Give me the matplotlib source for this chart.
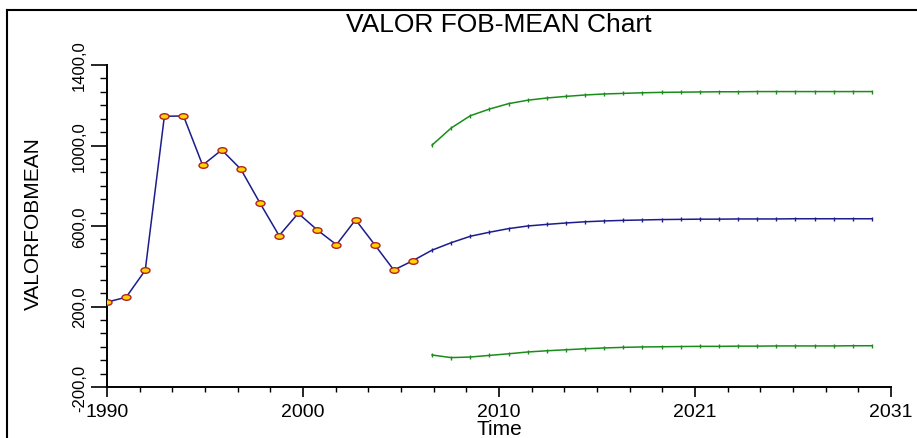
import numpy as np
import matplotlib
matplotlib.use("Agg")
import matplotlib.pyplot as plt
from matplotlib.lines import Line2D
from matplotlib.path import Path
from matplotlib.ticker import AutoMinorLocator, FixedLocator

plt.rcParams['font.family'] = ['Liberation Sans', 'DejaVu Sans']

# observed series
obs_years = list(range(1990, 2007))
obs_values = [222, 246, 380, 1145, 1147, 902, 978, 882, 714, 552, 663,
              580, 507, 631, 507, 381, 428]

# forecast mean and confidence limits
fc_years = list(range(2007, 2031))
fc_mean = [480, 517, 549, 569, 587, 600, 608, 615, 621, 625, 628, 630,
           632, 633, 634, 634, 635, 635, 635, 636, 636, 636, 636, 636]
fc_upper = [1002, 1087, 1148, 1181, 1208, 1225, 1236, 1244, 1251, 1256, 1259, 1262,
            1264, 1265, 1266, 1267, 1267, 1268, 1268, 1268, 1268, 1268, 1268, 1268]
fc_lower = [-41, -54, -51, -43, -35, -26, -20, -15, -10, -6, -3, -1,
            0, 1, 2, 2, 3, 3, 4, 4, 4, 4, 5, 5]

x_ticks = [1990, 2000.25, 2010.5, 2020.75, 2031]
x_tick_labels = ["1990", "2000", "2010", "2021", "2031"]
y_ticks = [-200, 200, 600, 1000, 1400]
y_tick_labels = ["-200,0", "200,0", "600,0", "1000,0", "1400,0"]

W, H = 917, 439
fig = plt.figure(figsize=(W / 100, H / 100), dpi=100)
ax = fig.add_axes([107 / W, 1 - 388 / H, 784 / W, 322 / H])

blue = '#1c1c8c'
green = '#1a8c1a'

# blue line: observed + forecast mean joined
ax.plot(obs_years + fc_years, obs_values + fc_mean, color=blue, lw=1.1, zorder=3)
ax.plot(fc_years, fc_mean, ls='none', marker='|', ms=2.5, color=blue, zorder=3)
ax.plot(fc_years, fc_upper, color=green, lw=1.1, marker='|', ms=2.5)
ax.plot(fc_years, fc_lower, color=green, lw=1.1, marker='|', ms=2.5)

circ = Path.unit_circle()
ellipse = Path(circ.vertices * np.array([1.0, 0.62]), circ.codes)
ax.plot(obs_years, obs_values, ls='none', marker=ellipse, ms=6.5,
        mfc='#ffd400', mec='#b22222', mew=1.0, zorder=4)

ax.set_xlim(1990, 2031)
ax.set_ylim(-200, 1400)

for s in ['top', 'right']:
    ax.spines[s].set_visible(False)
for s in ['left', 'bottom']:
    ax.spines[s].set_linewidth(1.4)

ax.xaxis.set_major_locator(FixedLocator(x_ticks))
ax.set_xticklabels(x_tick_labels, fontsize=14)
ax.yaxis.set_major_locator(FixedLocator(y_ticks))
ax.set_yticklabels(y_tick_labels, fontsize=12, rotation=90, va='center')
ax.xaxis.set_minor_locator(AutoMinorLocator(6))
ax.yaxis.set_minor_locator(AutoMinorLocator(6))

ax.tick_params(axis='x', which='major', direction='out', length=7.2, width=1.2, pad=4)
ax.tick_params(axis='x', which='minor', direction='out', length=3.6, width=1.0)
ax.tick_params(axis='y', which='major', direction='out', length=11.5, width=1.2, pad=3)
ax.tick_params(axis='y', which='minor', direction='out', length=5.4, width=1.0)

ax.set_ylabel("VALORFOBMEAN", fontsize=15, va='center')
ax.yaxis.set_label_coords(-0.094, 0.512)

fig.text(499 / W, 1 - 32 / H, "VALOR FOB-MEAN Chart", fontsize=19,
         ha='center', va='baseline')
fig.text(499 / W, 1 - 435 / H, "Time", fontsize=15, ha='center', va='baseline')

# outer frame (only left and top edges fall inside the image)
fig.add_artist(Line2D([7 / W, 7 / W], [0, 1 - 11 / H], color='black', lw=1.5))
fig.add_artist(Line2D([7 / W, 1], [1 - 11 / H, 1 - 11 / H], color='black', lw=1.5))

fig.savefig("out.png", dpi=100)
